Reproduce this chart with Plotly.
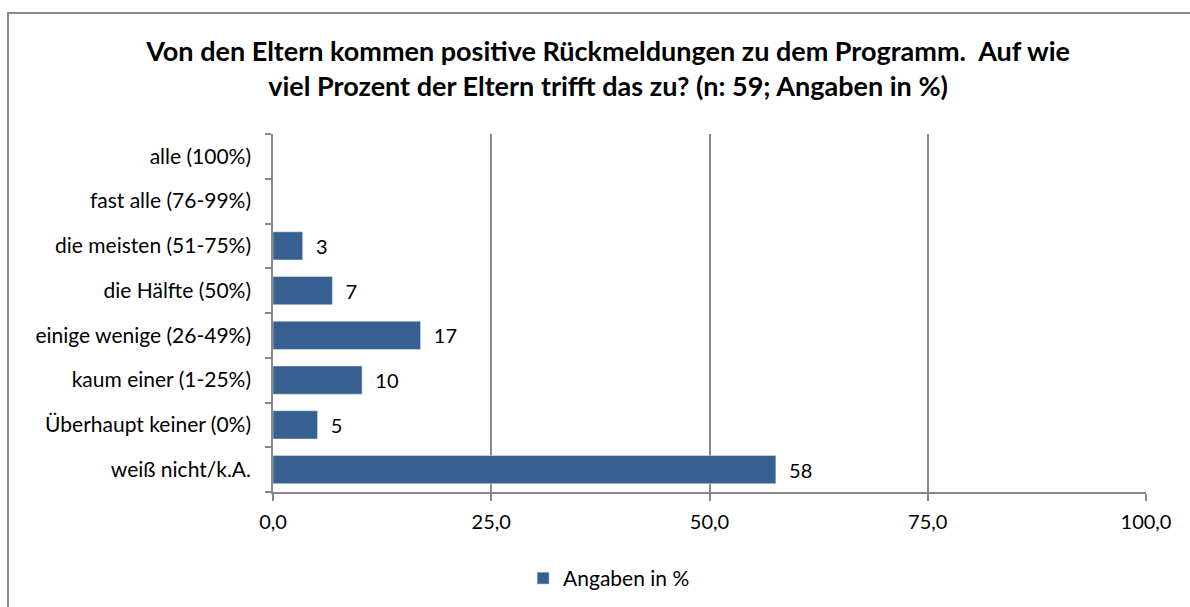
import plotly.graph_objects as go

# Antwortkategorien (von oben nach unten) und Anteile in %
categories = [
    "alle (100%)",
    "fast alle (76-99%)",
    "die meisten (51-75%)",
    "die Hälfte (50%)",
    "einige wenige (26-49%)",
    "kaum einer (1-25%)",
    "Überhaupt keiner (0%)",
    "weiß nicht/k.A.",
]
values = [None, None, 3.4, 6.8, 16.9, 10.2, 5.1, 57.6]
series_name = "Angaben in %"
x_ticks = [0, 25, 50, 75, 100]
x_tick_labels = ["0,0", "25,0", "50,0", "75,0", "100,0"]

title_text = ("Von den Eltern kommen positive Rückmeldungen zu dem Programm.  Auf wie<br>"
              "viel Prozent der Eltern trifft das zu? (n: 59; Angaben in %)")

bar_color = "#36608F"
grid_color = "#888888"
font_family = "Lato, 'Open Sans', sans-serif"

labels = ["" if v is None else "  " + str(round(v)) for v in values]

fig = go.Figure(
    go.Bar(
        y=categories,
        x=values,
        orientation="h",
        name=series_name,
        marker=dict(color=bar_color),
        text=labels,
        textposition="outside",
        cliponaxis=False,
        textfont=dict(size=20, color="#000000", family=font_family),
        width=0.63,
    )
)

fig.update_layout(
    width=1190,
    height=607,
    margin=dict(l=273, r=44, t=134, b=115),
    paper_bgcolor="white",
    plot_bgcolor="white",
    font=dict(family=font_family, size=21, color="#000000"),
    title=dict(
        text=title_text,
        x=0.511,
        xanchor="center",
        y=0.90,
        yref="container",
        yanchor="middle",
        font=dict(size=27, family=font_family, color="#000000", weight="bold"),
    ),
    showlegend=True,
    legend=dict(
        orientation="h",
        x=0.385,
        xanchor="center",
        y=0.047,
        yanchor="middle",
        yref="container",
        font=dict(size=21),
        itemwidth=30,
    ),
    xaxis=dict(
        range=[0, 100],
        tickvals=x_ticks,
        ticktext=x_tick_labels,
        showgrid=True,
        gridcolor=grid_color,
        gridwidth=1.5,
        showline=True,
        linecolor=grid_color,
        linewidth=1.5,
        ticks="outside",
        ticklen=7,
        tickcolor=grid_color,
        tickwidth=1.5,
        zeroline=False,
        ticklabelstandoff=4,
        tickfont=dict(size=20),
        fixedrange=True,
    ),
    yaxis=dict(
        categoryorder="array",
        categoryarray=categories[::-1],
        autorange=False,
        range=[-0.5, len(categories) - 0.5],
        showline=True,
        linecolor=grid_color,
        linewidth=1.5,
        ticks="outside",
        tickson="boundaries",
        ticklen=6,
        tickcolor=grid_color,
        tickwidth=1.5,
        ticklabelstandoff=16,
        tickfont=dict(size=21),
        showgrid=False,
        fixedrange=True,
    ),
    shapes=[
        dict(
            type="rect",
            xref="paper",
            yref="paper",
            x0=-265 / 873,
            x1=1200 / 873 - 273 / 873,
            y0=-0.5,
            y1=(607 - 13 - 115) / 358,
            line=dict(color="#888888", width=2),
            fillcolor="rgba(0,0,0,0)",
            layer="below",
        )
    ],
)

fig.write_html("out.html")
